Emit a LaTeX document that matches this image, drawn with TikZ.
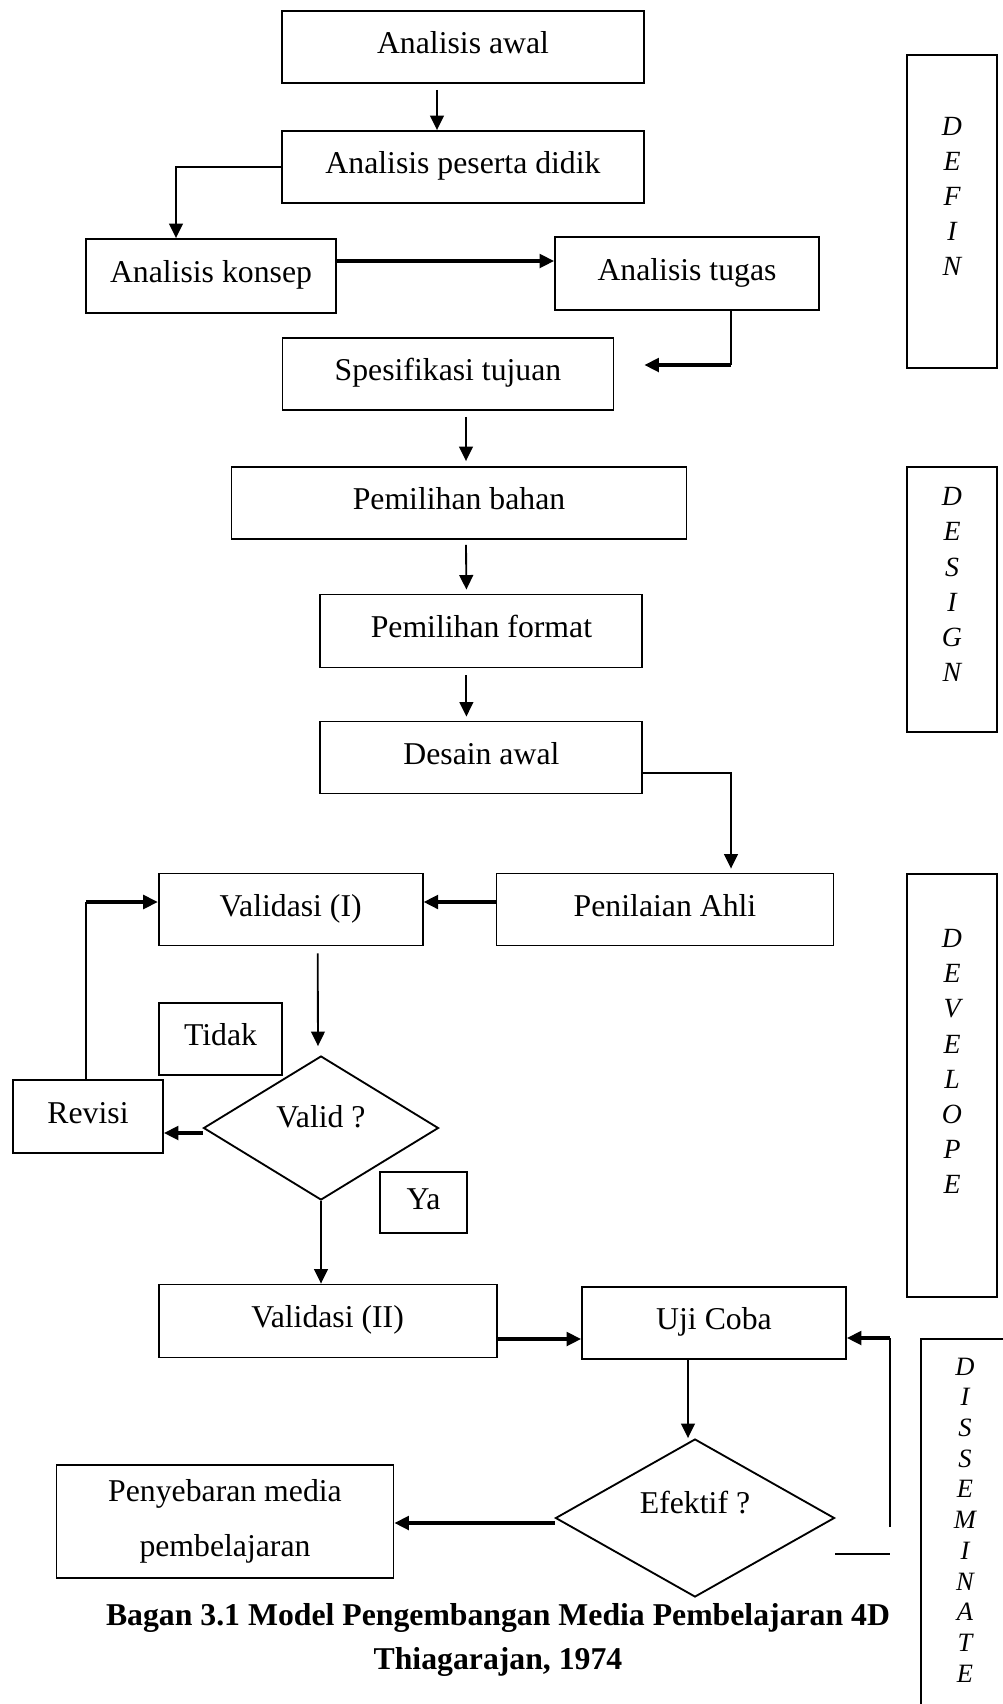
\documentclass[tikz,border=0pt]{standalone}
\usepackage{fontspec}
\setmainfont{Liberation Serif}
\usepackage{tikz}
\usetikzlibrary{shapes.geometric, arrows.meta}
\newdimen\pxu
\pxu=0.378pt

\begin{document}
\begin{tikzpicture}[x=0.378pt, y=-0.378pt,
    font=\fontsize{12}{14}\selectfont,
    box/.style={draw, line width=0.7pt, inner sep=0pt, text height=9pt, text depth=4pt},
    decision/.style={draw, diamond, line width=0.7pt, inner sep=0pt},
    line/.style={line width=0.7pt},
    arr/.style={-{Triangle[length=5.5pt, width=5.2pt]}, line width=0.7pt},
    thickarr/.style={arr, line width=1.2pt},
    stage/.style={draw, line width=0.7pt},
    stageletters/.style={align=center, inner sep=0pt, font=\fontsize{10.5}{13.3}\selectfont\itshape}]
\path[fill=white, use as bounding box] (0,0) rectangle (1003,1704);
% Define
\node[box, minimum width=362\pxu, minimum height=72\pxu] (awal) at (463,47) {Analisis awal};
\node[box, minimum width=362\pxu, minimum height=72\pxu] (peserta) at (463,167) {Analisis peserta didik};
\node[box, minimum width=250\pxu, minimum height=74\pxu] (konsep) at (211,276) {Analisis konsep};
\node[box, minimum width=264\pxu, minimum height=73\pxu] (tugas) at (687,273.5) {Analisis tugas};
\node[box, minimum width=331\pxu, minimum height=72\pxu] (spes) at (448,374) {Spesifikasi tujuan};
% Design
\node[box, minimum width=455\pxu, minimum height=72\pxu] (bahan) at (459,503) {Pemilihan bahan};
\node[box, minimum width=322\pxu, minimum height=73\pxu] (format) at (481.4,631) {Pemilihan format};
\node[box, minimum width=322\pxu, minimum height=72\pxu] (desain) at (481.4,757.5) {Desain awal};
% Develope
\node[box, minimum width=337\pxu, minimum height=72\pxu] (penilaian) at (665,909.5) {Penilaian Ahli};
\node[box, minimum width=264\pxu, minimum height=72\pxu] (valid1) at (290.7,909.5) {Validasi (I)};
\node[box, minimum width=123\pxu, minimum height=72\pxu] (tidak) at (220.5,1039) {Tidak};
\node[box, minimum width=150\pxu, minimum height=73\pxu] (revisi) at (88,1116.5) {Revisi};
\node[decision, aspect=1.63, minimum width=235\pxu, minimum height=144\pxu, text height=8pt, text depth=8.5pt] (valid) at (321,1128) {Valid ?};
\node[box, minimum width=87\pxu, minimum height=61\pxu] (ya) at (423.5,1202.5) {Ya};
\node[box, minimum width=338\pxu, minimum height=73\pxu] (valid2) at (327.6,1321) {Validasi (II)};
\node[box, minimum width=264\pxu, minimum height=72\pxu] (uji) at (714,1323) {Uji Coba};
% Disseminate
\node[decision, aspect=1.77, minimum width=279\pxu, minimum height=158\pxu, text height=8pt, text depth=11.4pt] (efektif) at (695,1518) {Efektif ?};
\node[draw, line width=0.7pt, inner sep=0pt, align=center, font=\fontsize{12}{20.8}\selectfont, minimum width=337\pxu, minimum height=113\pxu] (peny) at (225,1521.5) {Penyebaran media\\pembelajaran};
% Caption
\node[align=center, font=\fontsize{12}{16.3}\selectfont\bfseries] (caption) at (498,1640) {Bagan 3.1 Model Pengembangan Media Pembelajaran 4D\\Thiagarajan, 1974};
% Stage columns
\foreach \name/\cy/\h/\ly/\letters in {define/211.5/313/196.5/D\\E\\F\\I\\N, design/599.5/265/584.5/D\\E\\S\\I\\G\\N, develope/1085.5/423/1061.5/D\\E\\V\\E\\L\\O\\P\\E} {
    \node[stage, minimum width=90\pxu, minimum height=\h\pxu] (\name) at (952,\cy) {};
    \node[stageletters] (\name-text) at (952,\ly) {\letters};
}
\draw[line] (1010,1339) -- (921,1339) -- (921,1710);
\node[stageletters, font=\fontsize{10}{11.6}\selectfont\itshape] (disseminate-text) at (965,1520) {D\\I\\S\\S\\E\\M\\I\\N\\A\\T\\E};
% Connectors
\draw[arr] ([xshift=-26\pxu, yshift=-6\pxu]awal.south) -- ([xshift=-26\pxu]peserta.north);
\draw[arr] (peserta.west) -| ([xshift=-35\pxu]konsep.north);
\draw[thickarr] ([yshift=15\pxu]konsep.east) -- ([yshift=15\pxu]konsep.east -| tugas.west);
\coordinate (tugasbend) at ([xshift=44\pxu, yshift=9\pxu]tugas.south |- spes.east);
\draw[line] ([xshift=44\pxu]tugas.south) -- (tugasbend);
\draw[thickarr] (tugasbend) -- ([xshift=30\pxu, yshift=9\pxu]spes.east);
\draw[arr] ([xshift=18\pxu, yshift=-6\pxu]spes.south) -- ([xshift=7\pxu, yshift=5\pxu]bahan.north);
\draw[arr] ([xshift=7\pxu, yshift=-5\pxu]bahan.south) -- ([xshift=-15\pxu, yshift=4\pxu]format.north);
\draw[arr] ([xshift=-15\pxu, yshift=-7\pxu]format.south) -- ([xshift=-15\pxu, yshift=4\pxu]desain.north);
\draw[arr] ([yshift=-15.5\pxu]desain.east) -| ([xshift=66\pxu, yshift=4\pxu]penilaian.north);
\draw[thickarr] ([yshift=7.5\pxu]penilaian.west) -- ([yshift=7.5\pxu]penilaian.west -| valid1.east);
\draw[arr] ([xshift=27\pxu, yshift=-7\pxu]valid1.south) -- ([xshift=-3\pxu, yshift=9\pxu]valid.north);
\draw[thickarr] ([yshift=-5\pxu]valid.west) -- ([yshift=-5\pxu]valid.west -| revisi.east);
\coordinate (revisibend) at ([xshift=-2\pxu, yshift=7.5\pxu]revisi.north |- valid1.west);
\draw[line] ([xshift=-2\pxu]revisi.north) -- (revisibend);
\draw[thickarr] (revisibend) -- ([yshift=7.5\pxu]valid1.west);
\draw[arr] (valid.south) -- (valid.south |- valid2.north);
\draw[thickarr] ([yshift=-18\pxu]valid2.east) -- ([yshift=-18\pxu]valid2.east -| uji.west);
\draw[arr] ([xshift=-26\pxu]uji.south) -- ([xshift=-26\pxu]uji.south |- efektif.north);
\draw[thickarr] ([yshift=-5\pxu]efektif.west) -- ([yshift=-5\pxu]efektif.west -| peny.east);
% Loop back to Uji Coba
\coordinate (loopfoot) at (890,1527);
\coordinate (loopbend) at ([yshift=-15\pxu]loopfoot |- uji.east);
\draw[line] (loopfoot) -- (loopbend);
\draw[thickarr] (loopbend) -- ([yshift=-15\pxu]uji.east);
\draw[line] ([yshift=-36\pxu]efektif.east) -- ([yshift=-36\pxu]efektif.east -| loopfoot);
\end{tikzpicture}
\end{document}
